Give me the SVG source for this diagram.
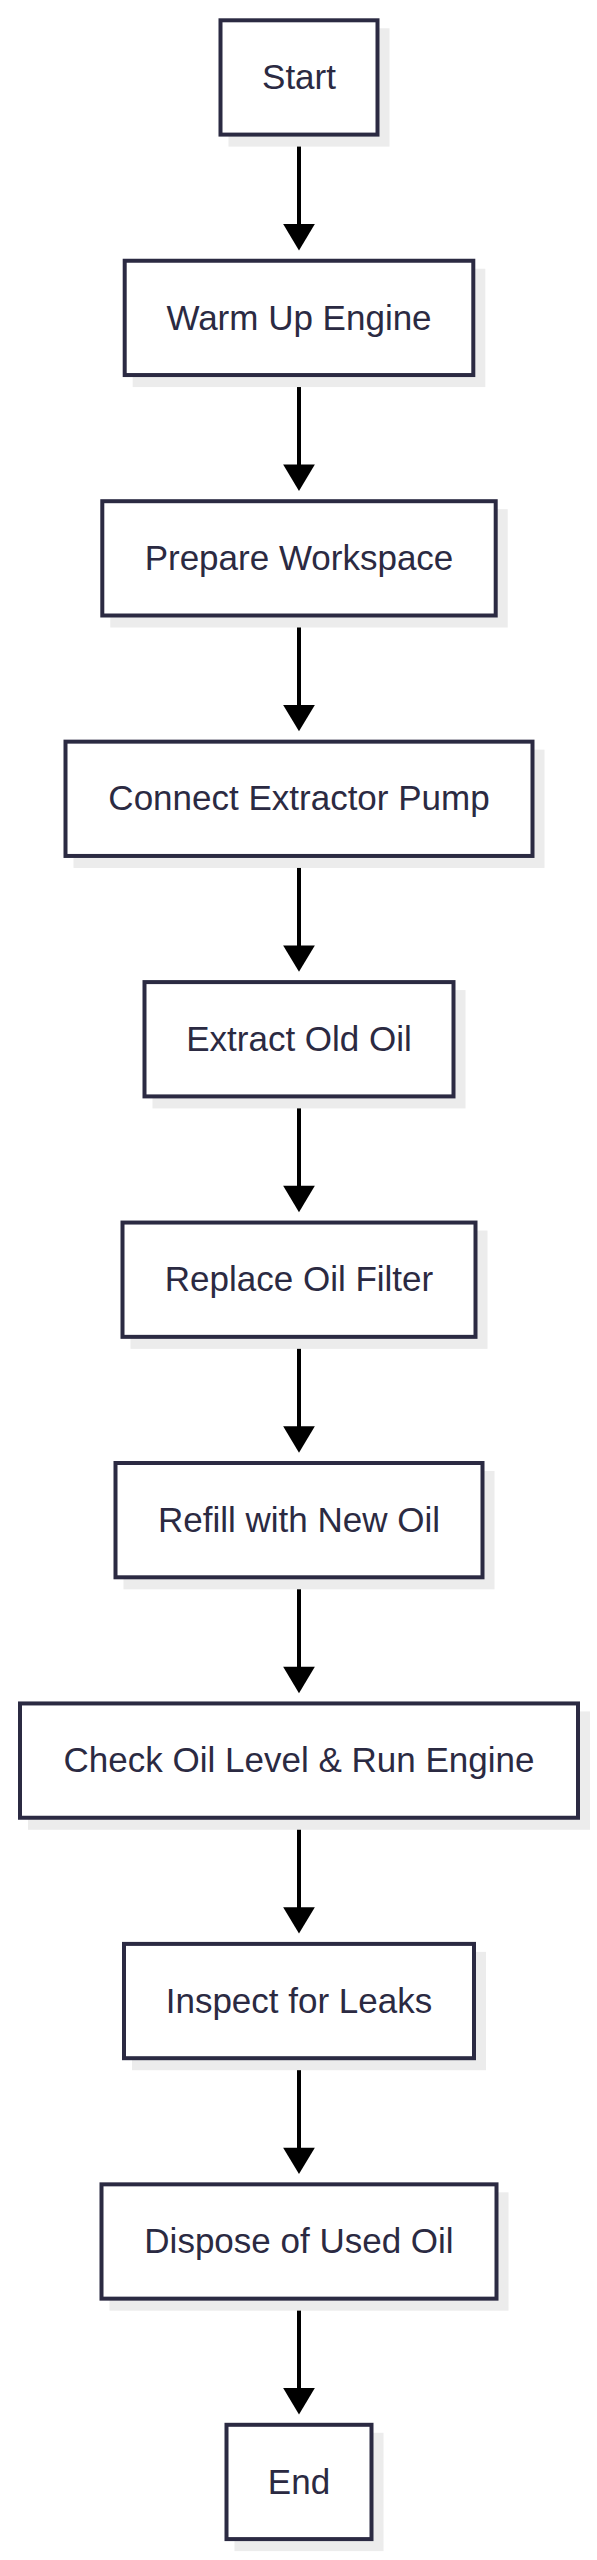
<svg xmlns="http://www.w3.org/2000/svg" xmlns:xlink="http://www.w3.org/1999/xlink" width="597" height="2560" viewBox="0 0 597 2560">
<defs>
<style>
.shadow{fill:#ececec;}
.box{fill:#ffffff;stroke:#2b2a42;stroke-width:4;}
.lbl{font-family:"Liberation Sans",Arial,sans-serif;font-size:35px;fill:#2b2a42;text-anchor:middle;}
.edge{stroke:#000000;stroke-width:4;fill:none;}
.head{fill:#000000;}
</style>
<path id="ah" class="head" d="M-15.85,0 L15.85,0 L0,26.4 z"/>
</defs>
<rect width="597" height="2560" fill="#ffffff"/>
<g id="connectors">
<line class="edge" x1="299" y1="134.6" x2="299" y2="225"/>
<use href="#ah" xlink:href="#ah" x="299" y="224.05"/>
<line class="edge" x1="299" y1="375.05" x2="299" y2="465.5"/>
<use href="#ah" xlink:href="#ah" x="299" y="464.5"/>
<line class="edge" x1="299" y1="615.5" x2="299" y2="706"/>
<use href="#ah" xlink:href="#ah" x="299" y="704.95"/>
<line class="edge" x1="299" y1="855.95" x2="299" y2="946.4"/>
<use href="#ah" xlink:href="#ah" x="299" y="945.4"/>
<line class="edge" x1="299" y1="1096.4" x2="299" y2="1186.9"/>
<use href="#ah" xlink:href="#ah" x="299" y="1185.85"/>
<line class="edge" x1="299" y1="1336.85" x2="299" y2="1427.3"/>
<use href="#ah" xlink:href="#ah" x="299" y="1426.3"/>
<line class="edge" x1="299" y1="1577.3" x2="299" y2="1667.8"/>
<use href="#ah" xlink:href="#ah" x="299" y="1666.75"/>
<line class="edge" x1="299" y1="1817.75" x2="299" y2="1908.2"/>
<use href="#ah" xlink:href="#ah" x="299" y="1907.2"/>
<line class="edge" x1="299" y1="2058.2" x2="299" y2="2148.7"/>
<use href="#ah" xlink:href="#ah" x="299" y="2147.65"/>
<line class="edge" x1="299" y1="2298.65" x2="299" y2="2389.1"/>
<use href="#ah" xlink:href="#ah" x="299" y="2388.1"/>
</g>
<g id="start">
<rect class="shadow" x="228.5" y="28.3" width="161" height="118.3"/>
<rect class="box" x="220.5" y="20.3" width="157" height="114.3"/>
<text class="lbl" x="299" y="89.1">Start</text>
</g>
<g id="warm_up_engine">
<rect class="shadow" x="132.7" y="268.75" width="352.6" height="118.3"/>
<rect class="box" x="124.7" y="260.75" width="348.6" height="114.3"/>
<text class="lbl" x="299" y="329.55">Warm Up Engine</text>
</g>
<g id="prepare_workspace">
<rect class="shadow" x="110.3" y="509.2" width="397.4" height="118.3"/>
<rect class="box" x="102.3" y="501.2" width="393.4" height="114.3"/>
<text class="lbl" x="299" y="570">Prepare Workspace</text>
</g>
<g id="connect_extractor_pump">
<rect class="shadow" x="73.5" y="749.65" width="471" height="118.3"/>
<rect class="box" x="65.5" y="741.65" width="467" height="114.3"/>
<text class="lbl" x="299" y="810.45">Connect Extractor Pump</text>
</g>
<g id="extract_old_oil">
<rect class="shadow" x="152.5" y="990.1" width="313" height="118.3"/>
<rect class="box" x="144.5" y="982.1" width="309" height="114.3"/>
<text class="lbl" x="299" y="1050.9">Extract Old Oil</text>
</g>
<g id="replace_oil_filter">
<rect class="shadow" x="130.5" y="1230.55" width="357" height="118.3"/>
<rect class="box" x="122.5" y="1222.55" width="353" height="114.3"/>
<text class="lbl" x="299" y="1291.35">Replace Oil Filter</text>
</g>
<g id="refill_with_new_oil">
<rect class="shadow" x="123.5" y="1471" width="371" height="118.3"/>
<rect class="box" x="115.5" y="1463" width="367" height="114.3"/>
<text class="lbl" x="299" y="1531.8">Refill with New Oil</text>
</g>
<g id="check_oil_level_run_engine">
<rect class="shadow" x="28" y="1711.45" width="562" height="118.3"/>
<rect class="box" x="20" y="1703.45" width="558" height="114.3"/>
<text class="lbl" x="299" y="1772.25">Check Oil Level &amp; Run Engine</text>
</g>
<g id="inspect_for_leaks">
<rect class="shadow" x="132" y="1951.9" width="354" height="118.3"/>
<rect class="box" x="124" y="1943.9" width="350" height="114.3"/>
<text class="lbl" x="299" y="2012.7">Inspect for Leaks</text>
</g>
<g id="dispose_of_used_oil">
<rect class="shadow" x="109.5" y="2192.35" width="399" height="118.3"/>
<rect class="box" x="101.5" y="2184.35" width="395" height="114.3"/>
<text class="lbl" x="299" y="2253.15">Dispose of Used Oil</text>
</g>
<g id="end">
<rect class="shadow" x="234.5" y="2432.8" width="149" height="118.3"/>
<rect class="box" x="226.5" y="2424.8" width="145" height="114.3"/>
<text class="lbl" x="299" y="2493.6">End</text>
</g>
</svg>
